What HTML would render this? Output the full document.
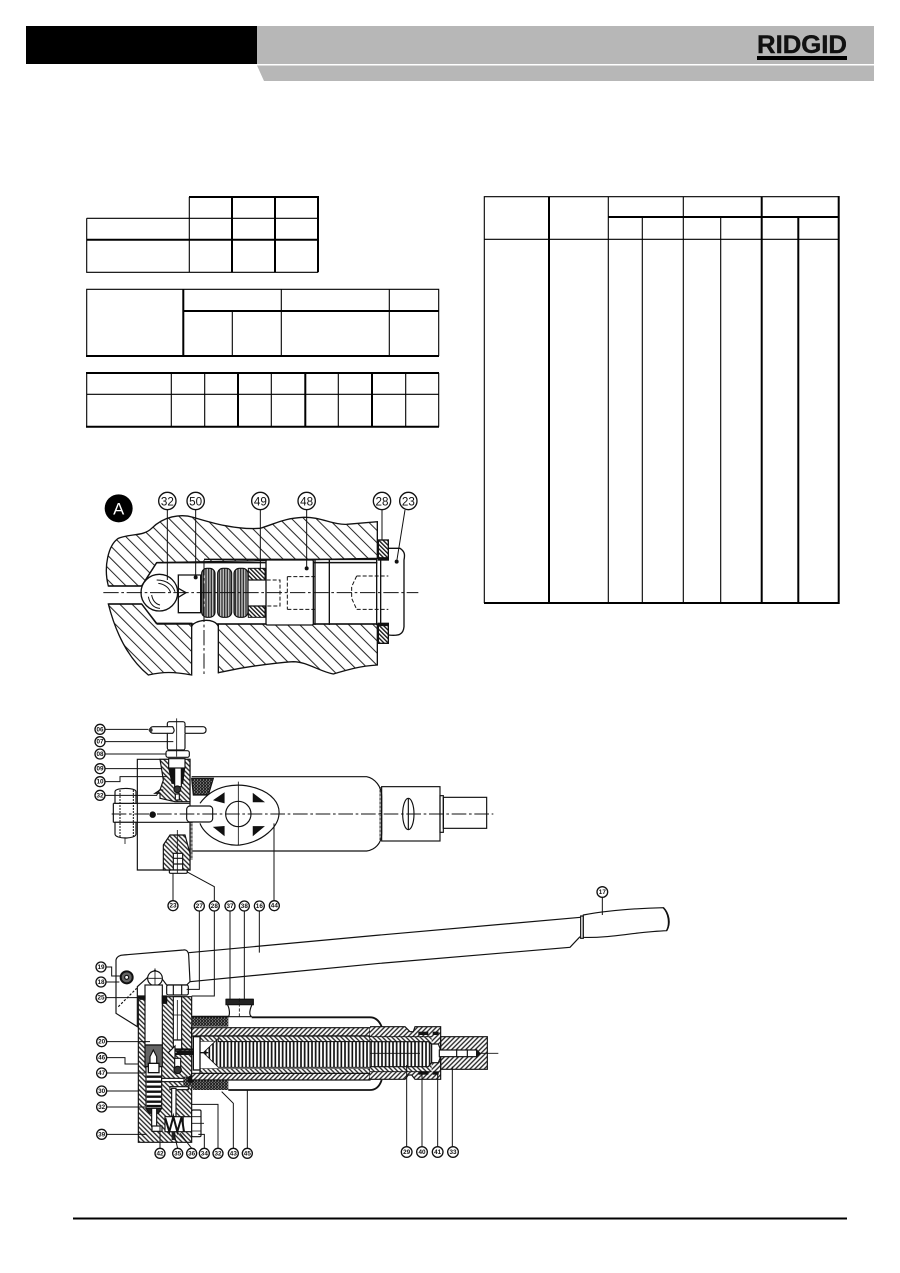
<!DOCTYPE html>
<html><head><meta charset="utf-8">
<style>html,body{margin:0;padding:0;background:#fff}svg{display:block}text{font-family:"Liberation Sans",sans-serif;text-anchor:middle}</style>
</head><body>
<svg width="900" height="1273" viewBox="0 0 900 1273" xmlns="http://www.w3.org/2000/svg">
<defs>
<pattern id="hA" width="26" height="26" patternUnits="userSpaceOnUse" patternTransform="rotate(-45)"><rect width="26" height="26" fill="#fff"/><line x1="3" y1="0" x2="3" y2="26" stroke="#222" stroke-width="3"/></pattern>
<pattern id="hAf" width="9" height="9" patternUnits="userSpaceOnUse" patternTransform="rotate(-45)"><rect width="9" height="9" fill="#fff"/><line x1="2" y1="0" x2="2" y2="9" stroke="#111" stroke-width="4"/></pattern>
<pattern id="hF" width="10" height="10" patternUnits="userSpaceOnUse" patternTransform="rotate(-45)"><rect width="10" height="10" fill="#fff"/><line x1="3" y1="0" x2="3" y2="10" stroke="#222" stroke-width="4"/></pattern>
<pattern id="hB" width="10" height="10" patternUnits="userSpaceOnUse" patternTransform="rotate(45)"><rect width="10" height="10" fill="#fff"/><line x1="3" y1="0" x2="3" y2="10" stroke="#222" stroke-width="4"/></pattern>
<pattern id="fin" width="11" height="11" patternUnits="userSpaceOnUse"><rect width="11" height="11" fill="#fff"/><line x1="3" y1="0" x2="3" y2="11" stroke="#111" stroke-width="5"/></pattern>
<pattern id="wash" width="8" height="8" patternUnits="userSpaceOnUse"><rect width="8" height="8" fill="#bbb"/><line x1="2" y1="0" x2="2" y2="8" stroke="#222" stroke-width="3.5"/></pattern>
<pattern id="spk" width="9" height="9" patternUnits="userSpaceOnUse"><rect width="9" height="9" fill="#222"/><circle cx="2" cy="3" r="1.5" fill="#fff"/><circle cx="6.5" cy="7" r="1.3" fill="#ddd"/></pattern>
</defs>

<!-- header -->
<rect x="26" y="26" width="231" height="38" fill="#000"/>
<rect x="257" y="26" width="617" height="38" fill="#b7b7b7"/>
<polygon points="257,65.5 874,65.5 874,81 264,81" fill="#b7b7b7"/>
<text x="802" y="53" font-size="25" font-weight="bold" textLength="90" lengthAdjust="spacingAndGlyphs" fill="#111" stroke="#111" stroke-width=".4">RIDGID</text>
<rect x="757" y="56" width="90" height="4" fill="#000"/>

<!-- tables -->
<g fill="none" stroke="#000">
<g stroke-width="1.1"><path d="M86.7,218.3H318M86.7,218.3V272.3H318M189.3,197V272.3"/></g>
<g stroke-width="2"><path d="M189,197H319M232,197V272.3M275,197V272.3M318,197V272.3M86.7,239.7H318"/></g>
<g stroke-width="1.1"><path d="M86.7,356V289.3H438.7V356M232.3,311V356M281.3,289.3V356M389.3,289.3V356"/></g>
<g stroke-width="2"><path d="M183.3,289.3V356M183.3,311H438.7M86,356H439"/></g>
<g stroke-width="1.1"><path d="M86.7,373V426.7M438.7,373V426.7M86.7,394.3H438.7M171.3,373V426.7M204.7,373V426.7M271.3,373V426.7M338.3,373V426.7M405.7,373V426.7"/></g>
<g stroke-width="2"><path d="M86,373H439M86,426.7H439M238,373V426.7M305.3,373V426.7M372,373V426.7"/></g>
<g stroke-width="1.1"><path d="M484.3,603V196.7H838M484.3,239.3H838M608.3,196.7V603M683.3,196.7V603M720.7,217V603M642.3,217V603"/></g>
<g stroke-width="2"><path d="M549,196.7V603M608.3,217H838M761.7,196.7V603M798.3,217V603M838.7,196V604M484,603H839"/></g>
</g>

<!-- Detail A -->
<g transform="translate(80,480) scale(.33333)" stroke="#111" stroke-width="4" fill="none">
<path fill="url(#hA)" d="M85,318C70,260 85,195 115,175C150,160 190,170 215,145C250,110 300,100 340,112C400,130 470,150 540,145C590,130 610,115 670,112C720,110 760,135 800,133L892,125V235L230,248L185,318Z"/>
<path fill="url(#hA)" d="M85,372H185L230,430H335V585C280,575 250,575 205,585C150,540 110,470 85,372Z"/>
<path fill="url(#hA)" d="M415,432H892V555C840,558 800,570 760,582C720,575 680,545 640,545C590,548 540,555 480,565L415,578Z"/>
<path d="M85,318H185M85,372H185" stroke-width="4.5"/>
<path d="M230,248H892M372,238H892M230,432H892" stroke-width="4.5"/>
<path d="M230,248L185,318M185,372L230,432"/>
<path fill="#fff" d="M335,584V440C340,420 405,410 415,440V580"/>
<circle cx="238" cy="338" r="55" fill="#fff"/>
<path d="M230,300C265,300 280,320 285,335M235,310C255,312 268,325 272,338M205,350C210,375 225,385 240,385M215,345C218,362 228,372 240,375" stroke-width="3"/>
<path d="M295,285H362V398H295ZM295,325L318,338L295,352" fill="#fff"/>
<g fill="url(#wash)" stroke-width="3.5">
<rect x="365" y="265" width="40" height="147" rx="16"/>
<rect x="413" y="265" width="42" height="147" rx="16"/>
<rect x="462" y="265" width="42" height="147" rx="16"/>
</g>
<g fill="url(#hAf)" stroke-width="3">
<rect x="505" y="265" width="50" height="35"/>
<rect x="505" y="378" width="50" height="34"/>
</g>
<path d="M505,300H600M505,378H600"/>
<rect x="558" y="240" width="142" height="195" rx="4" fill="#fff"/>
<path d="M705,240V435M748,240V435M890,240V435M902,240V432"/>
<path d="M560,300H600V378H560M622,290H704M622,388H704M622,290V388M830,288H970M830,388H970M830,288L815,320V355L830,388" stroke-dasharray="12 6" stroke-width="3"/>
<path d="M925,205H960C975,215 975,225 972,240V440C970,465 955,468 925,465" fill="#fff"/>
<rect x="895" y="180" width="30" height="60" fill="url(#hAf)"/>
<rect x="895" y="430" width="30" height="60" fill="url(#hAf)"/>
<path d="M897,236H925M897,434H925" stroke-width="9"/>
<path d="M70,338H1015M372,240V590" stroke-width="3" stroke-dasharray="46 8 8 8"/>
<g stroke-width="3"><path d="M262,90V300M347,90V290M541,90V270M680,90V265M906,90V180M975,90L950,245"/></g>
<g fill="#fff" stroke-width="4">
<circle cx="262" cy="63" r="26"/><circle cx="347" cy="63" r="26"/><circle cx="541" cy="63" r="26"/><circle cx="680" cy="63" r="26"/><circle cx="906" cy="63" r="26"/><circle cx="985" cy="63" r="26"/>
</g>
<g font-size="35" fill="#111" stroke="none">
<text x="262" y="76">32</text><text x="347" y="76">50</text><text x="541" y="76">49</text><text x="680" y="76">48</text><text x="906" y="76">28</text><text x="985" y="76">23</text>
</g>
<circle cx="116" cy="85" r="42" fill="#000" stroke="none"/>
<text x="116" y="103" font-size="50" fill="#fff" stroke="none">A</text>
<circle cx="347" cy="292" r="4" fill="#111"/><circle cx="680" cy="265" r="4" fill="#111"/><circle cx="950" cy="245" r="4" fill="#111"/>
</g>

<!-- Top view -->
<g transform="translate(80,710) scale(.33333)" stroke="#111" stroke-width="3.5" fill="none">
<path d="M335,200H860C885,205 905,230 905,260V370C905,400 885,420 860,423H335"/>
<rect x="905" y="230" width="175" height="163"/>
<rect x="1080" y="257" width="10" height="110"/>
<rect x="1090" y="262" width="130" height="93"/>
<path d="M902,232V392" stroke-width="8" stroke-dasharray="2 2"/>
<ellipse cx="985" cy="312" rx="17" ry="47"/>
<path d="M985,265V359"/>
<path d="M172,148H330V480H172Z" fill="#fff"/>
<path d="M334,330V450" stroke-width="8" stroke-dasharray="2 2"/>
<path fill="url(#hF)" d="M240,148H330V275H285L240,265V250L225,250L240,240L250,210Z"/>
<path fill="url(#spk)" d="M335,205H400L385,255H340Z"/>
<path fill="#111" d="M266,172H314L308,220H276Z"/>
<rect x="284" y="170" width="20" height="60" fill="#fff"/>
<circle cx="292" cy="238" r="10" fill="#333"/>
<rect x="286" y="252" width="12" height="18" fill="#fff"/>
<rect x="262" y="35" width="53" height="85" rx="6" fill="#fff"/>
<rect x="210" y="50" width="168" height="20" rx="9" fill="#fff"/>
<rect x="263" y="48" width="51" height="24" fill="#fff" stroke="none"/>
<path d="M262,50H278C284,60 284,64 278,70H262M315,50V70"/>
<circle cx="212" cy="60" r="6" fill="#333" stroke="none"/>
<rect x="258" y="122" width="70" height="20" rx="6" fill="#fff"/>
<rect x="266" y="146" width="49" height="28" fill="#fff"/>
<path d="M360,280C400,225 470,215 530,235C575,250 600,280 597,312C595,350 550,395 480,405C420,410 370,370 360,340" fill="#fff"/>
<circle cx="475" cy="312" r="38" fill="#fff"/>
<g fill="#111"><path d="M403,270L432,250V278Z"/><path d="M520,252L550,275H520Z"/><path d="M403,352L432,375V350Z"/><path d="M520,375L550,350H520Z"/></g>
<path d="M100,280H330M100,337H330M100,280V337" fill="#fff"/>
<rect x="320" y="288" width="78" height="48" rx="10" fill="#fff"/>
<path d="M168,280V245C168,232 105,232 105,245V280Z" fill="#fff"/>
<path d="M168,337V372C168,388 105,388 105,372V337Z" fill="#fff"/>
<path d="M120,240V382M160,240V382" stroke-width="3" stroke-dasharray="6 3"/>
<path d="M135,382V402" stroke-width="2.5"/>
<circle cx="218" cy="314" r="8" fill="#111"/>
<path fill="url(#hF)" d="M250,405L270,375H315L330,430V480H250Z"/>
<rect x="280" y="430" width="28" height="50" fill="#fff"/>
<path d="M280,445H308M280,462H308"/>
<rect x="268" y="480" width="54" height="10" rx="4" fill="#fff"/>
<path d="M95,312H1240" stroke-width="3" stroke-dasharray="44 8 8 8"/>
<path d="M290,25V140M475,215V405M292,360V490" stroke-width="2.5"/>
<g stroke-width="3"><path d="M75,58H205M75,95H280M75,132H258M75,176H245M75,215H120V200H260M75,256H230L238,240H250M279,575V490M403,575V530L320,485M582,570V340"/></g>
<g fill="#fff" stroke-width="4">
<circle cx="60" cy="58" r="15"/><circle cx="60" cy="95" r="15"/><circle cx="60" cy="132" r="15"/><circle cx="60" cy="176" r="15"/><circle cx="60" cy="215" r="15"/><circle cx="60" cy="256" r="15"/><circle cx="279" cy="587" r="15"/><circle cx="583" cy="587" r="15"/>
</g>
<g font-size="19" font-weight="bold" fill="#111" stroke="none">
<text x="60" y="64">06</text><text x="60" y="101">07</text><text x="60" y="138">08</text><text x="60" y="182">09</text><text x="60" y="221">10</text><text x="60" y="262">32</text><text x="279" y="593">23</text><text x="583" y="593">44</text>
</g>
</g>

<!-- Side section -->
<g transform="translate(80,900) scale(.33333)" stroke="#111" stroke-width="3.5" fill="none">
<path d="M130,165L310,150C320,148 325,155 326,165L330,245L320,255H260L245,235L225,210L200,235L172,260V380L108,340V180C110,170 120,165 130,165Z" fill="#fff"/>
<path d="M326,158L900,105M330,245L900,190"/>
<path d="M115,320L170,265" stroke-dasharray="7 5"/>
<circle cx="140" cy="232" r="18" fill="#666" stroke-width="6"/><circle cx="140" cy="232" r="6" fill="#fff"/>
<circle cx="225" cy="235" r="22" fill="#fff"/>
<path d="M225,205V260M205,235H245" stroke-width="2.5"/>
<!-- pump body -->
<path fill="url(#hF)" d="M175,290H335V727H175Z"/>
<rect x="195" y="255" width="52" height="180" fill="#fff"/>
<path d="M195,435H247V500H195Z" fill="#666"/>
<path fill="#111" d="M175,288H195V298H180ZM247,288H260V310H247Z"/>
<rect x="198" y="500" width="47" height="125" fill="#fff"/>
<path d="M210,500V470L220,450L230,470V500Z" fill="#fff"/>
<rect x="205" y="490" width="32" height="28" fill="#fff" stroke-width="4"/>
<path d="M200,530H243M200,545H243M200,560H243M200,575H243M200,590H243M200,605H243M200,618H243" stroke-width="7"/>
<path d="M198,625H245L235,640H208Z" fill="#222"/>
<rect x="215" y="625" width="15" height="55" fill="#fff"/>
<rect x="216" y="678" width="30" height="16" fill="#fff"/>
<rect x="260" y="255" width="65" height="30" rx="5" fill="#fff"/>
<path d="M280,255V285M305,255V285"/>
<rect x="280" y="290" width="25" height="130" fill="#fff"/>
<path d="M280,345H305M292,300V420" stroke-width="2.5"/>
<rect x="280" y="420" width="25" height="30" fill="#fff"/>
<path d="M265,458L285,438V478Z" fill="#fff"/>
<path d="M285,462H340M285,448H340" stroke-width="6"/>
<path d="M284,475H302V505H284Z" fill="#fff"/>
<circle cx="293" cy="510" r="11" fill="#333"/>
<rect x="245" y="535" width="70" height="10" fill="#fff"/>
<rect x="270" y="560" width="55" height="9" fill="#fff"/>
<rect x="275" y="565" width="13" height="85" fill="#fff"/>
<path d="M255,650H335V695H255Z" fill="#fff"/>
<path d="M256,655L268,695L280,650L292,695L305,650L312,695" stroke-width="6"/>
<rect x="275" y="696" width="11" height="24" fill="#222" stroke="none"/>
<rect x="335" y="630" width="28" height="80" rx="4" fill="#fff"/>
<path d="M310,650V695M335,670H372M335,650H362M335,693H362" stroke-width="2.5"/>
<!-- main cylinder -->
<path fill="url(#spk)" d="M335,350H445V380H335Z" stroke="none"/>
<path fill="url(#spk)" d="M310,530H335V540H445V570H340L335,560H310Z" stroke="none"/>
<circle cx="333" cy="538" r="11" fill="#111" stroke="none"/>
<path d="M335,350H445M515,352H870C890,352 900,368 905,380M445,570H870C890,570 900,555 905,540" stroke-width="5.5"/>
<path fill="#fff" d="M445,350H515C505,345 510,325 518,310V298H440V310C450,325 450,345 445,350Z"/>
<path fill="#222" d="M438,298H520V314H438Z"/>
<path d="M478,295V355" stroke-width="2.5" stroke-dasharray="10 5"/>
<path fill="url(#hB)" d="M335,383H870V408H335Z"/>
<path fill="url(#hB)" d="M335,520H870V540H335Z"/>
<path fill="url(#hF)" d="M360,408H870V425H360Z"/>
<path fill="url(#hF)" d="M360,505H870V520H360Z"/>
<rect x="360" y="425" width="510" height="80" fill="#fff" stroke="none"/>
<rect x="340" y="410" width="20" height="100" fill="#fff" stroke-width="4"/>
<path fill="url(#fin)" d="M415,415V425H870V502H415L370,458Z" stroke-width="2.5"/>
<rect x="290" y="452" width="50" height="13" fill="#111" stroke="none"/>
<path d="M360,458H385" stroke-width="4"/>
<g stroke-width="3"><path d="M358,33V268H320M403,33V288H335M450,33V300M493,33V300M538,33V158M78,201H95V228H120M78,246H118M78,293H178M80,425H210M80,473H135V492H175M80,519H195M80,573H178M80,621H195M80,703H200M240,745V680M293,745L282,700M335,745L300,700M373,745V703H355M414,745V613H335M460,745V610L425,575M502,745V570"/></g>
<g fill="#fff" stroke-width="4">
<circle cx="358" cy="18" r="15"/><circle cx="403" cy="18" r="15"/><circle cx="450" cy="18" r="15"/><circle cx="493" cy="18" r="15"/><circle cx="538" cy="18" r="15"/>
<circle cx="63" cy="201" r="15"/><circle cx="63" cy="246" r="15"/><circle cx="63" cy="293" r="15"/><circle cx="65" cy="425" r="15"/><circle cx="65" cy="473" r="15"/><circle cx="65" cy="519" r="15"/><circle cx="65" cy="573" r="15"/><circle cx="65" cy="621" r="15"/><circle cx="65" cy="703" r="15"/>
<circle cx="240" cy="760" r="15"/><circle cx="293" cy="760" r="15"/><circle cx="335" cy="760" r="15"/><circle cx="373" cy="760" r="15"/><circle cx="414" cy="760" r="15"/><circle cx="460" cy="760" r="15"/><circle cx="502" cy="760" r="15"/>
</g>
<g font-size="19" font-weight="bold" fill="#111" stroke="none">
<text x="358" y="24">27</text><text x="403" y="24">28</text><text x="450" y="24">37</text><text x="493" y="24">38</text><text x="538" y="24">16</text>
<text x="63" y="207">19</text><text x="63" y="252">18</text><text x="63" y="299">25</text><text x="65" y="431">20</text><text x="65" y="479">46</text><text x="65" y="525">47</text><text x="65" y="579">30</text><text x="65" y="627">32</text><text x="65" y="709">39</text>
<text x="240" y="766">42</text><text x="293" y="766">35</text><text x="335" y="766">36</text><text x="373" y="766">34</text><text x="414" y="766">32</text><text x="460" y="766">43</text><text x="502" y="766">45</text>
</g>
</g>

<!-- handle grip and nose -->
<g transform="translate(370,880) scale(.33333)" stroke="#111" stroke-width="3.5" fill="none">
<path d="M30,165L632,112M30,250L600,202L630,170"/>
<path d="M632,108H640V175H632Z" fill="#fff"/>
<path d="M640,105C720,90 800,85 880,83C895,100 900,130 890,152C800,155 720,175 640,172Z" fill="#fff"/>
<path d="M880,83C897,100 903,130 890,152" stroke-width="4.5"/>
<!-- nose fills with no left edge -->
<path fill="url(#hB)" stroke="none" d="M0,440H105L120,455H130L135,440H212V598H135L125,585H115L105,598H0Z"/>
<path fill="url(#hB)" d="M212,470H352V568H212Z"/>
<path d="M0,440H105L120,455H130L135,440H212V598H135L125,585H115L105,598H0"/>
<rect x="0" y="470" width="185" height="105" fill="url(#hF)" stroke="none"/>
<path d="M0,470H185M0,575H185" stroke-width="2.5"/>
<path d="M0,485H175L185,492V548L175,560H0" fill="url(#fin)"/>
<path d="M0,520H150" stroke-width="2.5"/>
<path d="M185,492H205L210,505V535L205,548H185Z" fill="#fff"/>
<rect x="208" y="510" width="112" height="20" fill="#fff"/>
<path d="M320,510L330,520L320,530ZM260,508V532M292,508V532" fill="#111"/>
<path d="M330,520H385" stroke-width="2.5"/>
<g fill="#111" stroke="none">
<rect x="145" y="455" width="30" height="10"/><rect x="188" y="455" width="18" height="10"/>
<rect x="145" y="574" width="30" height="10"/><rect x="188" y="574" width="18" height="10"/>
</g>
<path d="M110,800V555M156,800V582M203,800V582M247,800V560M697,52V105" stroke-width="3"/>
<g fill="#fff" stroke-width="4">
<circle cx="110" cy="816" r="16"/><circle cx="156" cy="816" r="16"/><circle cx="203" cy="816" r="16"/><circle cx="249" cy="816" r="16"/><circle cx="697" cy="36" r="16"/>
</g>
<g font-size="19" font-weight="bold" fill="#111" stroke="none">
<text x="110" y="822">29</text><text x="156" y="822">40</text><text x="203" y="822">41</text><text x="249" y="822">33</text><text x="697" y="42">17</text>
</g>
</g>

<!-- footer rule -->
<rect x="73" y="1217.5" width="774" height="2" fill="#000"/>
</svg>
</body></html>
